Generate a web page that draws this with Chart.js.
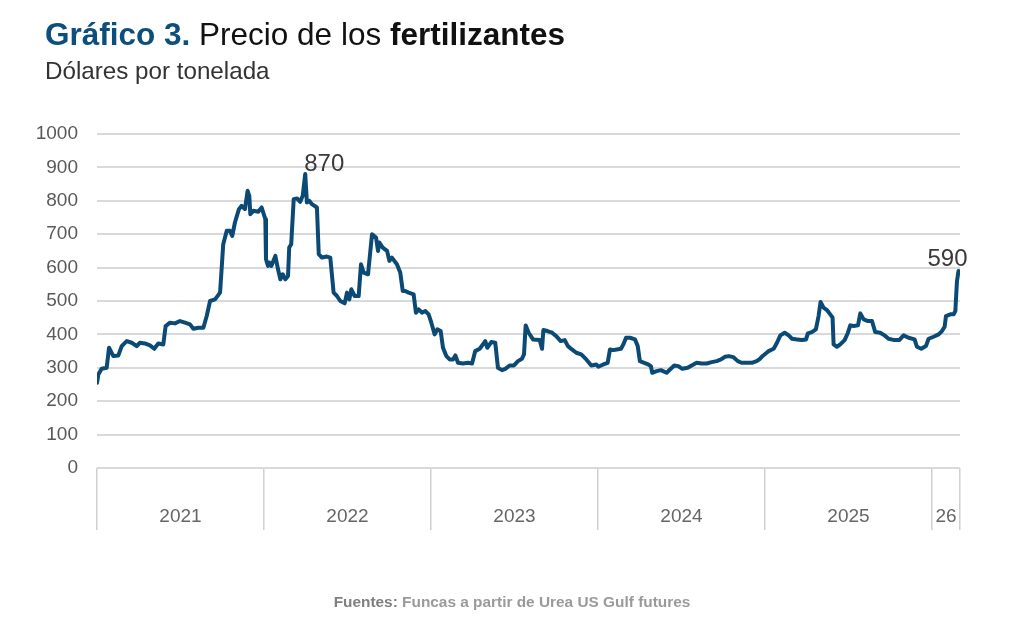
<!DOCTYPE html>
<html lang="es">
<head>
<meta charset="utf-8">
<script src="https://cdn.jsdelivr.net/npm/chart.js@4"></script>
<style>
  body { margin: 0; background: #fff; font-family: "Liberation Sans", Arial, sans-serif; }
  #wrap { position: relative; width: 1024px; height: 642px; overflow: hidden; }
  #wrap canvas { position: absolute; left: 0; top: 0; }
  .titulo { position: absolute; left: 45px; top: 19px; font-size: 31.5px; line-height: 31.5px; color: #111; white-space: nowrap; }
  .titulo .num { color: #0d4f7c; font-weight: bold; }
  .titulo b { font-weight: bold; }
  .sub { position: absolute; left: 45px; top: 59px; font-size: 24.2px; line-height: 24px; color: #333; white-space: nowrap; }
  .fuente { position: absolute; left: 0; width: 1024px; top: 594px; text-align: center; font-family: "Liberation Sans", sans-serif; font-size: 15.4px; line-height: 16px; font-weight: bold; color: #9a9a9a; }
  .fuente span { color: #7f7f7f; }
</style>
</head>
<body>
<div id="wrap">
  <canvas id="graph" width="1024" height="642"></canvas>
  <div class="titulo"><span class="num">Gráfico 3.</span> Precio de los <b>fertilizantes</b></div>
  <div class="sub">Dólares por tonelada</div>
  <div class="fuente"><span>Fuentes:</span> Funcas a partir de Urea US Gulf futures</div>
</div>
<script>
// fechas en años decimales (semanas aprox.) y precio de la urea en $/t
var fechas = [
  2021.000, 2021.008, 2021.028, 2021.058, 2021.072, 2021.098, 2021.128, 2021.148, 2021.178, 2021.208,
  2021.238, 2021.257, 2021.287, 2021.317, 2021.343, 2021.367, 2021.397, 2021.411, 2021.437, 2021.467,
  2021.497, 2021.527, 2021.557, 2021.577, 2021.607, 2021.637, 2021.657, 2021.677, 2021.707, 2021.737,
  2021.756, 2021.777, 2021.796, 2021.810, 2021.826, 2021.850, 2021.866, 2021.886, 2021.902, 2021.912,
  2021.918, 2021.936, 2021.966, 2021.986,
  2022.008, 2022.012, 2022.024, 2022.032, 2022.044, 2022.068, 2022.084, 2022.098, 2022.112, 2022.128,
  2022.144, 2022.151, 2022.163, 2022.178, 2022.198, 2022.217, 2022.232, 2022.247, 2022.257, 2022.271,
  2022.287, 2022.317, 2022.328, 2022.347, 2022.377, 2022.397, 2022.417, 2022.437, 2022.457, 2022.483,
  2022.497, 2022.511, 2022.523, 2022.543, 2022.567, 2022.581, 2022.597, 2022.623, 2022.647, 2022.671,
  2022.683, 2022.691, 2022.711, 2022.737, 2022.751, 2022.766, 2022.796, 2022.816, 2022.831, 2022.846,
  2022.866, 2022.896, 2022.910, 2022.926, 2022.946, 2022.966, 2022.986,
  2023.002, 2023.022, 2023.038, 2023.058, 2023.072, 2023.092, 2023.112, 2023.132, 2023.146, 2023.162,
  2023.192, 2023.222, 2023.246, 2023.265, 2023.292, 2023.311, 2023.325, 2023.337, 2023.361, 2023.385,
  2023.401, 2023.425, 2023.445, 2023.471, 2023.497, 2023.521, 2023.545, 2023.557, 2023.567, 2023.585,
  2023.611, 2023.651, 2023.665, 2023.673, 2023.697, 2023.725, 2023.750, 2023.777, 2023.801, 2023.820,
  2023.844, 2023.870, 2023.900, 2023.930, 2023.960, 2023.990,
  2024.002, 2024.032, 2024.058, 2024.072, 2024.092, 2024.112, 2024.138, 2024.152, 2024.168, 2024.192,
  2024.222, 2024.238, 2024.251, 2024.277, 2024.301, 2024.317, 2024.325, 2024.351, 2024.377, 2024.411,
  2024.431, 2024.457, 2024.481, 2024.505, 2024.537, 2024.561, 2024.591, 2024.621, 2024.651, 2024.681,
  2024.711, 2024.737, 2024.760, 2024.784, 2024.810, 2024.837, 2024.860, 2024.891, 2024.921, 2024.950,
  2024.970, 2024.990,
  2025.010, 2025.022, 2025.052, 2025.072, 2025.092, 2025.118, 2025.142, 2025.162, 2025.192, 2025.222,
  2025.246, 2025.257, 2025.281, 2025.305, 2025.321, 2025.333, 2025.351, 2025.371, 2025.391, 2025.405,
  2025.411, 2025.431, 2025.451, 2025.477, 2025.497, 2025.511, 2025.531, 2025.557, 2025.571, 2025.591,
  2025.617, 2025.641, 2025.660, 2025.690, 2025.716, 2025.740, 2025.776, 2025.804, 2025.830, 2025.860,
  2025.896, 2025.910, 2025.936, 2025.964, 2025.980,
  2026.010, 2026.040, 2026.060, 2026.076, 2026.084, 2026.110, 2026.130, 2026.140, 2026.150, 2026.159
];
var precios = [
  255, 280, 297, 300, 360, 335, 337, 365, 380, 375,
  365, 375, 373, 367, 357, 373, 370, 425, 435, 433,
  440, 435, 430, 417, 420, 420, 455, 500, 505, 525,
  670, 710, 710, 695, 735, 775, 785, 775, 830, 815,
  760, 770, 767, 780,
  745, 625, 605, 615, 605, 635, 595, 565, 580, 565,
  575, 660, 670, 805, 807, 797, 815, 880, 795, 800,
  790, 780, 640, 630, 633, 630, 525, 515, 500, 493,
  525, 505, 535, 515, 515, 610, 585, 580, 700, 690,
  650, 675, 660, 650, 620, 630, 610, 585, 530, 530,
  525, 520, 465, 475, 465, 470, 460,
  435, 400, 415, 410, 360, 335, 325, 325, 337, 315,
  313, 315, 313, 350, 357, 370, 380, 360, 377, 375,
  300, 293, 297, 307, 307, 320, 327, 340, 427, 405,
  385, 383, 357, 413, 410, 405, 395, 380, 383, 365,
  355, 345, 340, 325, 307, 310,
  303, 310, 315, 355, 353, 355, 357, 370, 390, 390,
  385, 365, 320, 315, 310, 305, 285, 290, 293, 285,
  295, 307, 305, 297, 300, 307, 315, 313, 313, 317,
  320, 325, 333, 335, 332, 320, 315, 315, 315, 320,
  327, 337,
  345, 350, 357, 375, 397, 405, 397, 387, 385, 383,
  385, 403, 407, 415, 455, 497, 480, 473, 460, 450,
  370, 363, 370, 383, 405, 427, 425, 427, 463, 445,
  440, 440, 407, 405, 397, 387, 383, 383, 397, 390,
  385, 363, 357, 365, 387,
  393, 400, 410, 423, 455, 460, 460, 470, 560, 590
];

// eje x: cortes de año y etiquetas
var limitesAnio = [2021, 2022, 2023, 2024, 2025, 2026, 2026.168];
var etiquetasAnio = ['2021', '2022', '2023', '2024', '2025', '26'];
var yTicks = [0, 100, 200, 300, 400, 500, 600, 700, 800, 900, 1000];
var etiquetaMax = '870';
var etiquetaUltimo = '590';

var azul = '#0c4a76';
var gris = '#d9d9d9';

const puntos = fechas.map((f, i) => ({ x: f, y: precios[i] }));

// etiquetas de año centradas entre cortes + valores destacados
const textosPlugin = {
  id: 'textos',
  afterDraw(chart) {
    const ctx = chart.ctx;
    const xs = chart.scales.x;
    const area = chart.chartArea;
    ctx.save();
    ctx.font = '19px "Liberation Sans", Arial, sans-serif';
    ctx.fillStyle = '#666';
    ctx.textAlign = 'center';
    ctx.textBaseline = 'middle';
    for (let i = 0; i < etiquetasAnio.length; i++) {
      const x0 = xs.getPixelForValue(limitesAnio[i]);
      const x1 = xs.getPixelForValue(limitesAnio[i + 1]);
      ctx.fillText(etiquetasAnio[i], (x0 + x1) / 2, area.bottom + 49);
    }

    const meta = chart.getDatasetMeta(0);
    let iMax = 0;
    precios.forEach((p, i) => { if (p > precios[iMax]) iMax = i; });
    const pMax = meta.data[iMax];
    const pLast = meta.data[meta.data.length - 1];
    ctx.font = '24px "Liberation Sans", Arial, sans-serif';
    ctx.fillStyle = '#3a3a3a';
    ctx.textBaseline = 'alphabetic';
    ctx.textAlign = 'left';
    ctx.fillText(etiquetaMax, pMax.x - 1, pMax.y - 3);
    ctx.textAlign = 'right';
    ctx.fillText(etiquetaUltimo, pLast.x + 9, pLast.y - 5);
    ctx.restore();
  }
};

const config = {
  type: 'line',
  data: {
    datasets: [{
      data: puntos,
      borderColor: azul,
      borderWidth: 4,
      pointRadius: 0,
      tension: 0,
      fill: false,
      borderJoinStyle: 'round',
      borderCapStyle: 'round'
    }]
  },
  options: {
    responsive: false,
    animation: false,
    layout: { padding: { top: 134, right: 64, left: 0, bottom: 0 } },
    plugins: { legend: { display: false }, tooltip: { enabled: false } },
    scales: {
      x: {
        type: 'linear',
        min: limitesAnio[0],
        max: limitesAnio[limitesAnio.length - 1],
        afterBuildTicks: (scale) => { scale.ticks = limitesAnio.map(v => ({ value: v })); },
        afterFit: (scale) => { scale.height = 642 - 468; },
        ticks: { display: false },
        border: { display: false },
        grid: { drawOnChartArea: false, drawTicks: true, tickLength: 62, color: '#d0d0d0', lineWidth: 1.5 }
      },
      y: {
        min: 0,
        max: 1000,
        afterBuildTicks: (scale) => { scale.ticks = yTicks.map(v => ({ value: v })); },
        afterFit: (scale) => { scale.width = 97; },
        ticks: {
          color: '#595959',
          padding: 19,
          font: { family: '"Liberation Sans", Arial, sans-serif', size: 19 },
          callback: (v) => String(v)
        },
        border: { display: false },
        grid: { color: gris, lineWidth: 2, drawTicks: false }
      }
    }
  },
  plugins: [textosPlugin]
};

const graf = new Chart(document.getElementById('graph'), config);
</script>
</body>
</html>
